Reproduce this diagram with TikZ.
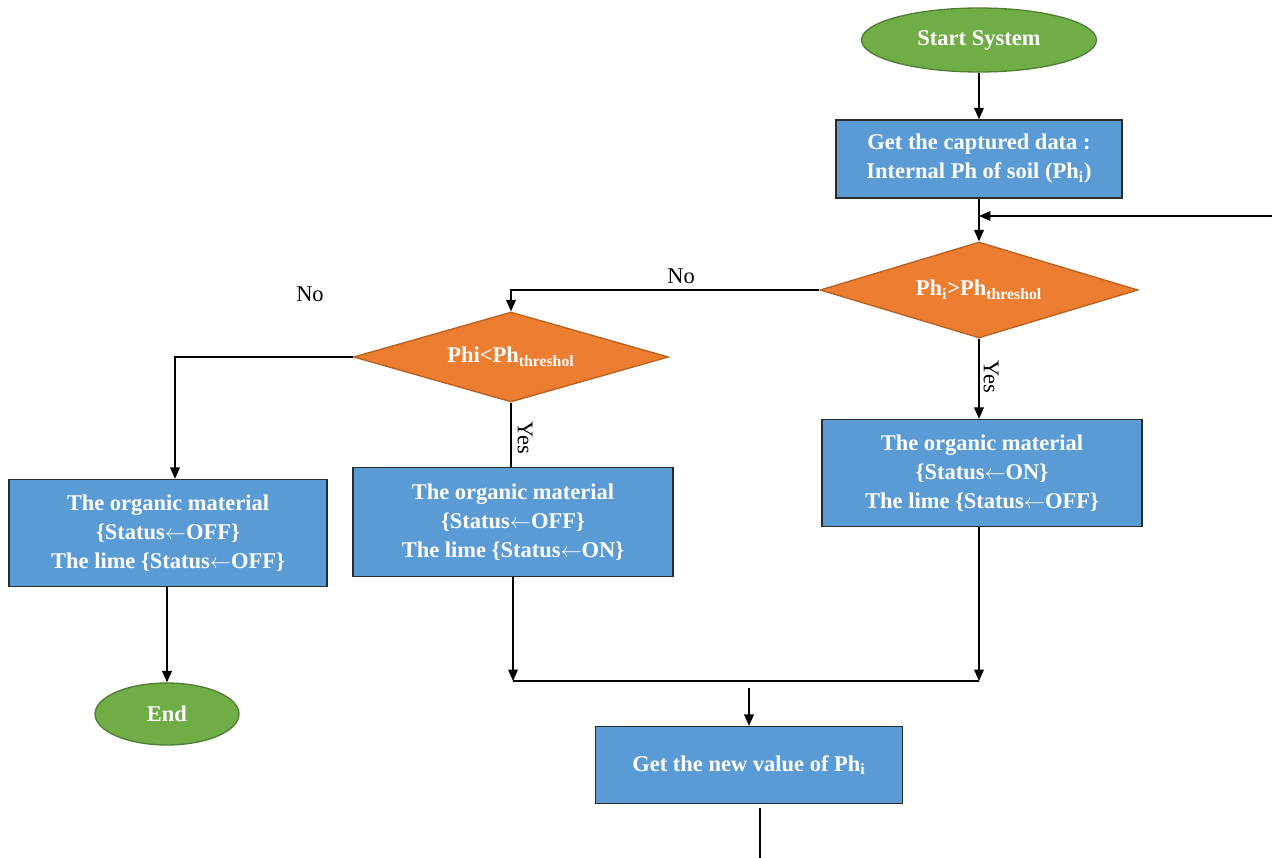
\documentclass[tikz,border=0pt]{standalone}
\usepackage{fontspec}
\setmainfont{Liberation Serif}
\usepackage{xcolor}
\usetikzlibrary{positioning, shapes.geometric, arrows.meta}

\definecolor{leafgreen}{HTML}{70AD47}
\definecolor{leafedge}{HTML}{507E32}
\definecolor{skyblue}{HTML}{5B9BD5}
\definecolor{boxedge}{HTML}{2B2B2B}
\definecolor{tangerine}{HTML}{ED7D31}
\definecolor{tangedge}{HTML}{B9611F}

\newcommand{\setto}{$\leftarrow$}

\begin{document}
\begin{tikzpicture} [x = 0.02cm, y = -0.02cm,
					line width = 0.75pt,
					terminal/.style = {draw = leafedge,
					    ellipse,
					    fill = leafgreen,
					    inner sep = 0pt,
					    text = white,
					    font = \fontsize{12.8}{16.4}\selectfont\bfseries},
					process/.style = {draw = boxedge,
					    rectangle,
					    fill = skyblue,
					    align = center,
					    inner sep = 0pt,
					    text = white,
					    font = \fontsize{12.8}{16.4}\selectfont\bfseries},
					decision/.style = {draw = tangedge,
					    diamond,
					    aspect = 3.3,
					    fill = tangerine,
					    inner sep = 0pt,
					    text = white,
					    font = \fontsize{12.8}{16.4}\selectfont\bfseries},
					answer/.style = {font = \fontsize{12.8}{16.4}\selectfont},
					flow/.style = {-{Triangle[length = 6.5pt, width = 5.5pt]}}]

					\useasboundingbox (0,0) rectangle (1272,858);

					% terminals
					\node (start) at (979,40) [terminal, minimum width = 4.7cm, minimum height = 1.28cm] {Start System};
					\node (stop) at (167,714) [terminal, minimum width = 2.88cm, minimum height = 1.24cm] {End};

					% processes
					\node (getdata) at (979,159) [process, minimum width = 5.72cm, minimum height = 1.56cm]
					    {Get the captured data :\\ Internal Ph of soil (Ph\textsubscript{i})};
					\node (organicon) at (982,473) [process, minimum width = 6.4cm, minimum height = 2.14cm]
					    {The organic material\\ \{Status\setto ON\}\\ The lime \{Status\setto OFF\}};
					\node (limeon) at (513,522) [process, minimum width = 6.4cm, minimum height = 2.18cm]
					    {The organic material\\ \{Status\setto OFF\}\\ The lime \{Status\setto ON\}};
					\node (alloff) at (168,533) [process, minimum width = 6.36cm, minimum height = 2.14cm]
					    {The organic material\\ \{Status\setto OFF\}\\ The lime \{Status\setto OFF\}};
					\node (newval) at (749,765) [process, minimum width = 6.14cm, minimum height = 1.54cm]
					    {Get the new value of Ph\textsubscript{i}};

					% decisions
					\node (above) at (979,290) [decision, minimum width = 6.36cm, minimum height = 1.92cm]
					    {Ph\textsubscript{i}>Ph\textsubscript{threshol}};
					\node (below) at (511,357) [decision, minimum width = 6.3cm, minimum height = 1.8cm]
					    {Phi<Ph\textsubscript{threshol}};

					% answers
					\node (noabove) at (681,276) [answer] {No};
					\node (nobelow) at (310,294) [answer] {No};
					\node (yesabove) at (991,377) [answer, rotate = -90] {Yes};
					\node (yesbelow) at (525,438) [answer, rotate = -90] {Yes};

					% helper points
					\coordinate (loopin) at (1272,216);
					\coordinate (leftturn) at (175,0);
					\coordinate (merge) at (749,681);
					\coordinate (tail) at (760,858);

					% connectors
					\draw [flow] (start) -- (getdata);
					\draw [flow] (getdata) -- (above);
					\draw [flow] (loopin) -- (loopin -| getdata);
					\draw [flow] (above.west) -| (below.north);
					\draw [flow] (above.south) -- (above.south |- organicon.north);
					\draw (below.south) -- (below.south |- limeon.north);
					\draw [flow] (below.west) -- (below.west -| leftturn) -- (leftturn |- alloff.north);
					\draw [flow] (alloff.south -| stop) -- (stop);
					\draw [flow] (limeon.south) -- (limeon.south |- merge);
					\draw [flow] (organicon.south -| above) -- (above |- merge);
					\draw (limeon.south |- merge) -- (above |- merge);
					\draw [flow] ([yshift = -4] merge) -- (newval);
					\draw ([yshift = -2] newval.south -| tail) -- (tail);
				\end{tikzpicture}
\end{document}
